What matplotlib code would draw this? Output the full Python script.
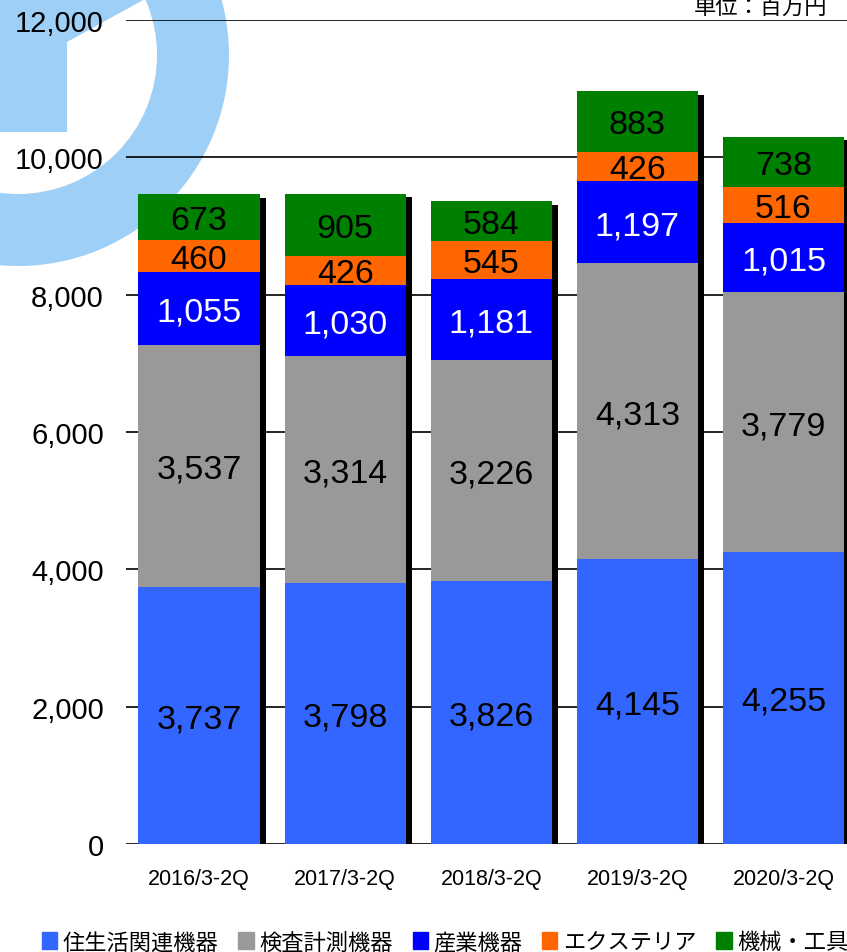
import numpy as np
import matplotlib
matplotlib.use('Agg')
import matplotlib.pyplot as plt
from matplotlib.patches import Wedge, Polygon, Patch
from matplotlib.transforms import ScaledTranslation

plt.rcParams['font.family'] = ['Liberation Sans', 'Noto Sans CJK JP', 'DejaVu Sans']

# data (unit: million yen)
periods = ['2016/3-2Q', '2017/3-2Q', '2018/3-2Q', '2019/3-2Q', '2020/3-2Q']
series_names = ['住生活関連機器', '検査計測機器', '産業機器', 'エクステリア', '機械・工具']
housing = [3737, 3798, 3826, 4145, 4255]
inspection = [3537, 3314, 3226, 4313, 3779]
industrial = [1055, 1030, 1181, 1197, 1015]
exterior = [460, 426, 545, 426, 516]
tools = [673, 905, 584, 883, 738]
y_ticks = [0, 2000, 4000, 6000, 8000, 10000, 12000]

colors = ['#3366ff', '#999999', '#0000ff', '#ff6600', '#008000']
label_colors = ['black', 'black', 'white', 'black', 'black']

W, H = 847, 953
fig = plt.figure(figsize=(W / 100, H / 100), dpi=100)

# light blue logo watermark in the top-left corner (pixel coords)
bg = fig.add_axes([0, 0, 1, 1], zorder=-1)
bg.set_xlim(0, W)
bg.set_ylim(H, 0)
bg.axis('off')
wm = '#9dcff7'
bg.add_patch(Wedge((18, 56), 211, 0, 360, width=72, color=wm, lw=0))
bg.add_patch(Polygon([(-5, -5), (150, -5), (145, 0), (67, 43), (67, 133), (-5, 133)],
                     closed=True, color=wm, lw=0))

# one category step = 146 px, first bar centre at x=199 px
ax = fig.add_axes([126 / W, 108 / H, 730.5 / W, 824 / H])
ax.patch.set_alpha(0)

x = np.arange(len(periods))
bw = 0.83
stack = [housing, inspection, industrial, exterior, tools]
totals = np.sum(stack, axis=0)

# black drop shadow behind each stacked bar
shadow_tr = ax.transData + ScaledTranslation(0.06, -0.035, fig.dpi_scale_trans)
ax.bar(x, totals, bw, color='black', lw=0, transform=shadow_tr, zorder=1)

bottom = np.zeros(len(periods))
for vals, c, lc in zip(stack, colors, label_colors):
    vals = np.array(vals)
    ax.bar(x, vals, bw, bottom=bottom, color=c, lw=0, zorder=2)
    for xi, b, v in zip(x, bottom, vals):
        ax.text(xi, b + v / 2, '{:,}'.format(v), ha='center', va='center_baseline',
                fontsize=24.5, color=lc, zorder=3)
    bottom += vals

ax.set_xlim(-0.5, 4.5)
ax.set_ylim(0, 12000)
ax.set_yticks(y_ticks)
ax.set_yticklabels(['{:,}'.format(t) for t in y_ticks], fontsize=21)
ax.set_xticks(x)
ax.set_xticklabels(periods, fontsize=15.5)
ax.tick_params(axis='y', length=0, pad=16)
ax.tick_params(axis='x', length=0, pad=17)
ax.yaxis.grid(True, color='black', lw=1.2)
ax.set_axisbelow(True)
for s in ax.spines.values():
    s.set_visible(False)

fig.text(827 / W, 1 - 8 / H, '単位：百万円', ha='right', va='center',
         fontsize=16, family=['Noto Sans CJK JP', 'DejaVu Sans'])

handles = [Patch(color=c) for c in colors]
fig.legend(handles, series_names, ncol=5, loc='center left',
           bbox_to_anchor=(42 / W, 10 / H), frameon=False,
           prop={'family': 'Noto Sans CJK JP', 'size': 16},
           handlelength=0.68, handleheight=0.78, handletextpad=0.25,
           columnspacing=0.9, borderpad=0, borderaxespad=0)

fig.savefig('out.png', dpi=100)
